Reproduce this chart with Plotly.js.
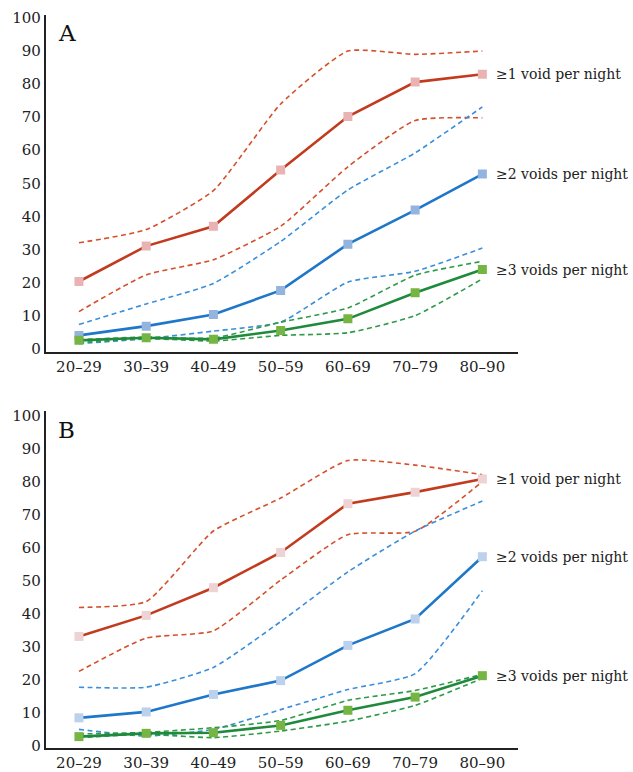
<!DOCTYPE html>
<html><head><meta charset="utf-8">
<script src="https://cdn.plot.ly/plotly-3.0.1.min.js"></script>
<style>html,body{margin:0;padding:0;background:#fff}#chart{width:633px;height:772px}</style>
</head><body><div id="chart"></div>
<script>
const ageGroups = ["20–29","30–39","40–49","50–59","60–69","70–79","80–90"];
const yTicks = [0,10,20,30,40,50,60,70,80,90,100];
const seriesLabels = ["≥1 void per night","≥2 voids per night","≥3 voids per night"];
const panelLabels = ["A","B"];

// Panel A
const redA    = [20.3, 31.0, 37.0, 54.0, 70.2, 80.6, 83.0];
const redA_hi = [32.0, 36.0, 47.8, 74.0, 90.0, 89.0, 90.0];
const redA_lo = [11.2, 22.3, 26.9, 37.0, 55.0, 69.0, 69.8];
const blueA    = [4.0, 6.8, 10.3, 17.6, 31.6, 41.9, 52.8];
const blueA_hi = [7.3, 13.5, 19.7, 32.4, 48.0, 59.2, 73.1];
const blueA_lo = [1.5, 3.0, 5.3, 8.0, 20.1, 23.4, 30.4];
const greenA    = [2.5, 3.3, 2.8, 5.5, 9.0, 16.9, 23.9];
const greenA_hi = [2.7, 3.5, 3.2, 8.0, 12.3, 22.2, 26.4];
const greenA_lo = [1.8, 3.0, 2.3, 4.0, 4.8, 10.0, 21.1];

// Panel B
const redB    = [33.1, 39.5, 47.9, 58.6, 73.4, 76.9, 80.9];
const redB_hi = [41.9, 43.7, 65.1, 75.1, 86.5, 85.1, 82.2];
const redB_lo = [22.5, 32.6, 34.8, 50.2, 64.0, 65.0, 80.1];
const blueB    = [8.4, 10.2, 15.5, 19.7, 30.4, 38.4, 57.3];
const blueB_hi = [17.7, 17.7, 23.7, 37.6, 52.7, 65.1, 74.2];
const blueB_lo = [4.9, 2.9, 4.9, 10.9, 17.0, 21.8, 47.0];
const greenB    = [2.7, 3.7, 3.9, 6.1, 10.7, 14.7, 21.2];
const greenB_hi = [3.5, 4.0, 5.4, 7.6, 13.7, 16.7, 21.6];
const greenB_lo = [2.4, 3.4, 2.4, 4.4, 7.4, 12.2, 20.4];

const FONT = "DejaVu Serif";
const colors = {
  red:   {line:"#C23B1F", dash:"#D4502C", mark:"#E9B3B3"},
  blue:  {line:"#1E77C9", dash:"#3B8EDB", mark:"#93B4DF"},
  green: {line:"#1F8A3B", dash:"#2E9A48", mark:"#76B443"}
};
const markB = {red:"#EDD3D3", blue:"#BBD1EC", green:"#76B443"};

const panels = [
  {xa:"x", ya:"y", sets:[["red",redA,redA_hi,redA_lo],["blue",blueA,blueA_hi,blueA_lo],["green",greenA,greenA_hi,greenA_lo]], marks:null},
  {xa:"x2", ya:"y2", sets:[["red",redB,redB_hi,redB_lo],["blue",blueB,blueB_hi,blueB_lo],["green",greenB,greenB_hi,greenB_lo]], marks:markB}
];

const traces = [];
panels.forEach(p => {
  p.sets.forEach(([c, mid, hi, lo]) => {
    [hi, lo].forEach(arr => traces.push({
      x: ageGroups, y: arr, xaxis: p.xa, yaxis: p.ya, type: "scatter", mode: "lines",
      line: {color: colors[c].dash, width: 1.6, dash: "5px,3.5px", shape: "spline", smoothing: 0.5},
      hoverinfo: "skip", showlegend: false
    }));
  });
});
panels.forEach(p => {
  p.sets.forEach(([c, mid]) => {
    traces.push({
      x: ageGroups, y: mid, xaxis: p.xa, yaxis: p.ya, type: "scatter", mode: "lines+markers",
      line: {color: colors[c].line, width: 2.6},
      marker: {symbol: "square", size: 9, color: p.marks ? p.marks[c] : colors[c].mark},
      showlegend: false
    });
  });
});

const annotations = [];
panels.forEach((p, i) => {
  p.sets.forEach(([c, mid], k) => {
    annotations.push({
      xref: p.xa, yref: p.ya, x: ageGroups.length - 1, y: mid[mid.length - 1],
      text: seriesLabels[k], showarrow: false, xanchor: "left", yanchor: "middle",
      xshift: 12, font: {family: FONT, size: 14, color: "#222"}
    });
  });
  annotations.push({
    xref: p.xa + " domain", yref: p.ya + " domain", x: 0.022, y: 0.99,
    text: panelLabels[i], showarrow: false, xanchor: "left", yanchor: "top",
    font: {family: FONT, size: 23, color: "#111"}
  });
});

function xax(anchor) {
  return {type: "category", range: [-0.49, 6.53], showgrid: false, zeroline: false,
    showline: true, linecolor: "#222", linewidth: 2.2, ticks: "", anchor: anchor,
    tickfont: {family: FONT, size: 15, color: "#222"}, fixedrange: true};
}
function yax(anchor, dom, rng) {
  return {domain: dom, range: rng, tickvals: yTicks, ticktext: yTicks.map(String),
    showgrid: false, zeroline: false, showline: true, linecolor: "#222", linewidth: 2.2,
    ticks: "", anchor: anchor, tickfont: {family: FONT, size: 15, color: "#222"}, fixedrange: true};
}

const layout = {
  width: 633, height: 772,
  margin: {l: 46, r: 115, t: 15, b: 24},
  paper_bgcolor: "#fff", plot_bgcolor: "#fff",
  font: {family: FONT},
  xaxis: xax("y"), yaxis: yax("x", [0.5408, 1], [-0.9, 100.9]),
  xaxis2: xax("y2"), yaxis2: yax("x2", [0, 0.4592], [-0.75, 101.4]),
  annotations: annotations,
  showlegend: false
};

Plotly.newPlot("chart", traces, layout, {displayModeBar: false, staticPlot: true});
</script></body></html>
